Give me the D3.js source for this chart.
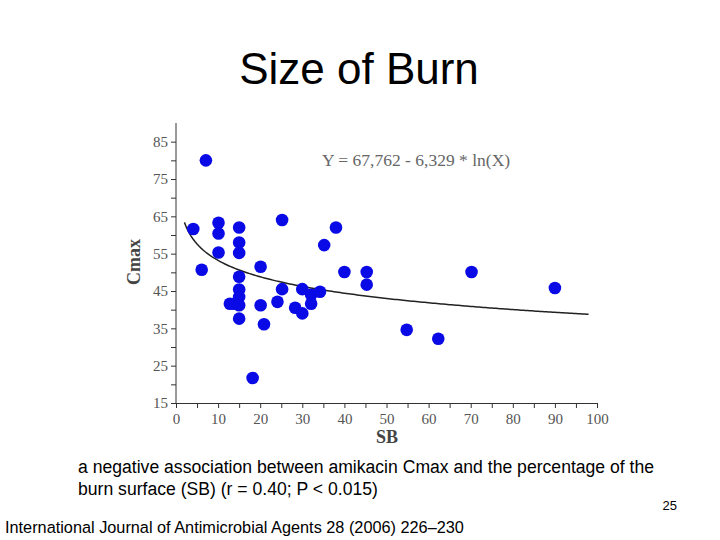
<!DOCTYPE html>
<html><head><meta charset="utf-8">
<script src="https://cdn.jsdelivr.net/npm/d3@7"></script>
<style>
body{margin:0;background:#fff}
.ax text{font-family:"Liberation Serif",serif;font-size:15px;fill:#555}
.ax path,.ax line{stroke:#333}
</style></head><body>
<svg id="c" width="720" height="540"></svg>
<script>
const sb =   [4.1,6.1,7.1,10.1,10.1,10.1,12.8,13.8,15,15,15,15,15,15,15,15,20.1,20.1,20.9,18.2,25.2,25.2,24.1,28.3,30,30,32.1,32.1,34.2,35.2,38,40,45.3,45.3,54.8,62.3,70.2,90];
const cmax = [61.6,50.7,80,63.3,60.4,55.3,41.6,41.6,62,58,55.2,48.8,45.4,43.4,41.2,37.6,51.5,41.2,36.1,21.7,64,45.5,42.1,40.5,45.5,39,44,41.6,44.8,57.3,62,50.1,50.1,46.7,34.6,32.2,50.1,45.8];
const xTicks = d3.range(0, 101, 10);
const yTicks = [15,25,35,45,55,65,75,85];
const fitA = 67.762, fitB = 6.329;

const svg = d3.select("#c");
const x = d3.scaleLinear().domain([0,100]).range([176,597]);
const y = d3.scaleLinear().domain([15,90]).range([403,123]);

svg.append("text").attr("x",359).attr("y",84).attr("text-anchor","middle")
  .style("font-family","Liberation Sans, Arial").style("font-size","44px").text("Size of Burn");

// axes
const xa = svg.append("g").attr("class","ax").attr("transform","translate(0,403)")
  .call(d3.axisBottom(x).tickValues(d3.range(0,101,5)).tickSize(5).tickSizeOuter(0)
    .tickFormat(d => d % 10 === 0 ? d : ""));
xa.selectAll(".tick text").attr("dy","0.85em");
const ya = svg.append("g").attr("class","ax").attr("transform","translate(176,0)")
  .call(d3.axisLeft(y).tickValues(d3.range(15,86,5)).tickSize(5).tickSizeOuter(0)
    .tickFormat(d => yTicks.includes(d) ? d : ""));
ya.select(".domain").attr("d","M0,"+y(90)+"V"+y(15));

svg.append("text").attr("x",387).attr("y",443).attr("text-anchor","middle")
  .style("font-family","Liberation Serif, serif").style("font-weight","bold").style("font-size","18px")
  .style("fill","#444").text("SB");
svg.append("text").attr("transform","translate(140,262) rotate(-90)").attr("text-anchor","middle")
  .style("font-family","Liberation Serif, serif").style("font-weight","bold").style("font-size","18px")
  .style("fill","#444").text("Cmax");

// fit curve
const xs = d3.range(2, 98.5, 0.5);
svg.append("path").datum(xs)
  .attr("d", d3.line().x(d => x(d)).y(d => y(fitA - fitB*Math.log(d))))
  .attr("fill","none").attr("stroke","#222").attr("stroke-width",1.5);

svg.append("g").selectAll("circle").data(sb).join("circle")
  .attr("cx", d => x(d)).attr("cy", (d,i) => y(cmax[i])).attr("r",6.3).attr("fill","#0a0ae6");

svg.append("text").attr("x",322).attr("y",166)
  .style("font-family","Liberation Serif, serif").style("font-size","17.5px").style("fill","#666")
  .text("Y = 67,762 - 6,329 * ln(X)");

const cap = svg.append("g").style("font-family","Liberation Sans, Arial").style("font-size","17.6px");
cap.append("text").attr("x",78).attr("y",473).text("a negative association between amikacin Cmax and the percentage of the");
cap.append("text").attr("x",78).attr("y",495).text("burn surface (SB) (r = 0.40; P < 0.015)");
svg.append("text").attr("x",677).attr("y",510).attr("text-anchor","end")
  .style("font-family","Liberation Sans, Arial").style("font-size","13px").text("25");
svg.append("text").attr("x",5).attr("y",533)
  .style("font-family","Liberation Sans, Arial").style("font-size","16.3px")
  .text("International Journal of Antimicrobial Agents 28 (2006) 226–230");
</script></body></html>
